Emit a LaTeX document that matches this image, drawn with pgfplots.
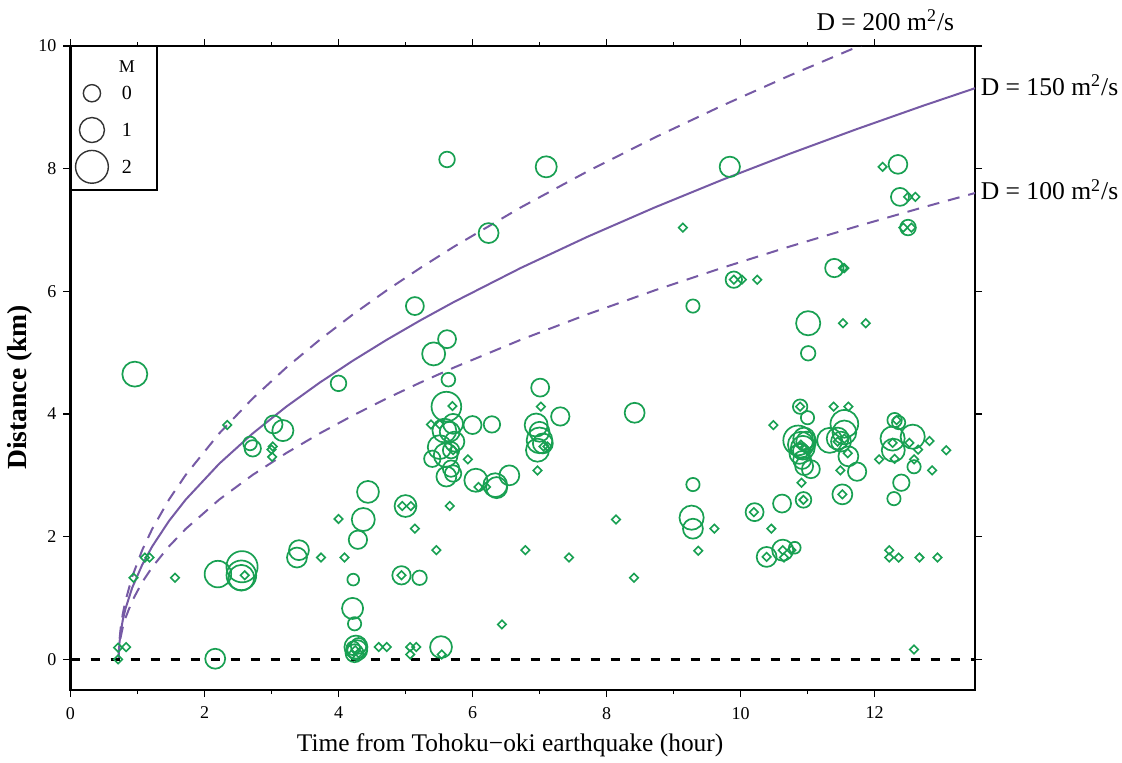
\documentclass[border=0pt]{standalone}
\usepackage{pgfplots}
\pgfplotsset{compat=1.18}
\usepackage{pgfplotstable}
\usepackage{fontspec}
\setmainfont{Liberation Serif}

\definecolor{quake}{RGB}{24,160,82}
\definecolor{front}{RGB}{118,90,165}

% events with a magnitude: time (h), distance (km), M
\pgfplotstableread{
t r M
5.62 8.15 -0.2
6.24 6.95 0.35
7.10 8.03 0.5
9.84 8.03 0.4
12.35 8.07 0.2
12.38 7.54 0.1
12.50 7.04 -0.2
11.40 6.38 0.15
0.96 4.65 1.0
2.68 3.52 -0.45
2.72 3.44 -0.1
3.03 3.83 0.1
3.17 3.73 0.5
5.14 5.76 0.1
5.62 5.22 0.1
5.42 4.98 0.75
5.64 4.56 -0.45
4.00 4.50 -0.2
5.61 4.12 1.6
6.00 3.82 0.1
6.29 3.83 -0.1
5.40 3.27 -0.1
5.71 3.84 0.35
5.66 3.71 0.35
5.58 3.73 0.85
5.73 3.55 0.35
5.51 3.46 0.85
5.68 3.41 -0.1
5.60 3.33 0.85
5.68 3.11 -0.1
5.71 3.03 -0.1
5.61 2.98 0.35
6.05 2.92 0.75
6.34 2.84 0.85
6.36 2.80 0.5
6.55 3.00 0.35
9.90 6.19 -0.1
9.29 5.76 -0.5
7.01 4.43 0.1
7.31 3.96 0.15
8.42 4.02 0.35
6.95 3.82 0.75
7.00 3.71 0.35
7.00 3.57 1.1
7.05 3.52 0.35
6.97 3.41 0.75
9.29 2.85 -0.5
11.01 5.48 0.9
11.01 4.99 -0.35
10.89 4.12 -0.35
11.00 3.94 -0.5
10.86 3.57 1.6
10.90 3.50 1.1
10.93 3.45 0.85
10.95 3.60 0.6
10.98 3.55 0.35
10.88 3.35 0.35
10.90 3.40 -0.2
10.92 3.25 0.1
10.95 3.15 0.1
11.05 3.10 0.1
11.55 3.84 1.35
11.55 3.70 0.85
11.33 3.57 1.0
11.45 3.60 0.6
11.50 3.55 0.35
11.61 3.31 0.35
11.74 3.06 0.15
12.30 3.90 -0.35
12.36 3.86 -0.5
12.27 3.60 0.9
12.57 3.63 0.9
12.28 3.41 0.75
12.59 3.14 -0.5
12.40 2.88 -0.1
12.29 2.62 -0.5
10.21 2.40 0.1
10.62 2.54 0.1
10.94 2.60 -0.2
11.52 2.69 0.35
10.39 1.67 0.35
10.63 1.78 0.5
10.81 1.82 -0.7
9.27 2.31 0.9
9.29 2.13 0.35
2.16 0.01 0.35
2.20 1.39 1.2
2.56 1.51 1.8
2.55 1.37 1.6
2.55 1.33 1.1
3.41 1.78 0.35
3.38 1.66 0.35
4.44 2.73 0.6
4.37 2.28 0.75
4.29 1.95 0.15
4.22 1.30 -0.7
4.21 0.83 0.5
4.24 0.58 -0.5
4.26 0.20 0.75
4.28 0.15 0.35
4.24 0.10 0.1
4.30 0.22 -0.2
4.22 0.18 -0.45
5.53 0.20 0.6
5.00 2.50 0.6
4.94 1.37 0.15
5.21 1.33 -0.35
}\withmag

% events without a magnitude: time (h), distance (km)
\pgfplotstableread{
t r
12.12 8.03
12.50 7.54
12.61 7.54
12.43 7.04
12.55 7.04
9.14 7.04
2.34 3.82
3.02 3.47
3.00 3.42
3.01 3.30
5.70 4.13
5.38 3.83
5.51 3.83
5.93 3.26
5.71 3.41
9.90 6.19
10.02 6.19
10.25 6.19
7.02 4.12
7.06 3.47
7.12 3.47
6.97 3.08
11.53 6.38
11.55 6.38
11.53 5.48
11.87 5.48
10.89 4.12
11.39 4.12
11.61 4.12
10.49 3.82
10.90 3.50
10.95 3.45
11.00 3.40
11.45 3.55
11.55 3.60
11.60 3.36
11.49 3.08
12.33 3.90
12.27 3.53
12.52 3.53
12.65 3.42
12.82 3.56
13.07 3.41
12.07 3.26
12.30 3.27
12.86 3.08
12.59 3.26
0.71 0.00
0.71 0.19
0.83 0.20
0.94 1.33
1.11 1.66
1.18 1.66
1.56 1.33
2.60 1.37
3.74 1.66
4.00 2.29
4.09 1.66
4.25 0.15
4.30 0.10
4.20 0.08
4.60 0.20
4.72 0.20
5.07 0.20
5.16 0.20
5.07 0.08
5.54 0.08
4.95 2.50
5.08 2.50
5.14 2.13
4.94 1.37
5.46 1.78
5.66 2.50
6.79 1.78
6.44 0.57
6.09 2.81
6.20 2.81
7.44 1.66
8.14 2.28
8.41 1.33
9.61 2.13
9.37 1.77
10.20 2.40
10.46 2.13
10.94 2.60
10.91 2.88
11.52 2.69
10.39 1.67
10.63 1.78
10.65 1.66
10.76 1.78
12.22 1.78
12.22 1.66
12.36 1.66
12.67 1.66
12.94 1.66
12.59 0.16
}\nomag

% legend entries: position and magnitude
\pgfplotstableread{
t r M
0.32 9.23 0
0.32 8.63 1
0.32 8.03 2
}\magkey

% triggering fronts r = sqrt(4 pi D (t - t0)), t0 = 0.72 h
\pgfplotstableread{
t d100 d150 d200
0.72 0 0 0
0.722 0.095 0.116 0.134
0.73 0.213 0.260 0.301
0.75 0.368 0.451 0.521
0.78 0.521 0.638 0.737
0.82 0.673 0.824 0.951
0.92 0.951 1.165 1.345
1.07 1.258 1.541 1.780
1.22 1.504 1.842 2.127
1.47 1.842 2.256 2.605
1.72 2.127 2.605 3.008
2.22 2.605 3.190 3.684
2.72 3.008 3.684 4.254
3.22 3.363 4.119 4.756
3.72 3.684 4.512 5.210
4.22 3.979 4.873 5.627
4.72 4.254 5.210 6.016
5.22 4.512 5.526 6.381
5.72 4.756 5.825 6.726
6.72 5.210 6.381 7.368
7.72 5.627 6.892 7.958
8.72 6.016 7.368 8.508
9.72 6.381 7.815 9.024
10.72 6.726 8.237 9.512
11.72 7.054 8.639 9.976
12.72 7.368 9.024 10.420
13.50 7.603 9.312 10.800
}\fronts

\pgfplotsset{
  magcircles/.style={scatter, only marks, mark=o,
    visualization depends on={\thisrow{M} \as \mag},
    scatter/use mapped color={draw=#1, fill=none},
    scatter/@pre marker code/.append style={/tikz/mark size={4.3+1.95*\mag}}},
}

\begin{document}
\begin{tikzpicture}
\begin{axis}[
  scale only axis,
  width=452.25pt, height=322pt,
  xmin=0, xmax=13.5, ymin=-0.5, ymax=10,
  xtick={0,2,...,12}, minor x tick num=1,
  ytick={0,2,...,10},
  tick align=outside,
  major tick length=3.5pt, minor tick length=2pt,
  every tick/.style={black, line width=0.6pt},
  axis line style={line width=1.3pt},
  tick label style={font=\fontsize{9}{11}\selectfont},
  xticklabel style={yshift=-1.5pt},
  /pgf/number format/assume math mode=true,
  xlabel={Time from Tohoku\char"2212 oki earthquake (hour)},
  ylabel={Distance (km)},
  xlabel style={font=\fontsize{12.7}{14}\selectfont, inner sep=0pt,
    at={([yshift=-30.5pt]rel axis cs:0.486,0)}, anchor=base},
  ylabel style={font=\bfseries\fontsize{13.8}{15}\selectfont, inner sep=0pt,
    at={([xshift=-21.75pt]rel axis cs:0,0.47)}, anchor=base},
  clip=false,
]
% fixed page extent
\path (rel axis cs:0,0) ++(-35.25pt,-36pt) rectangle ++(561pt,381pt);

\begin{scope}
\clip (rel axis cs:0,0) rectangle (rel axis cs:1,1);
\addplot[front, line width=1pt, dash pattern=on 6pt off 4.5pt] table[x=t, y=d200]{\fronts};
\addplot[front, line width=1pt, dash pattern=on 6pt off 4.5pt] table[x=t, y=d100]{\fronts};
\addplot[front, line width=1pt] table[x=t, y=d150]{\fronts};
\end{scope}

\addplot[black, line width=1.5pt, dash pattern=on 4.5pt off 5.5pt] coordinates {(0,0) (13.5,0)};

\addplot[only marks, mark=square, mark size=1.5pt, draw=quake,
  mark options={rotate=45, line width=0.8pt, draw=quake, fill=none}]
  table[x=t, y=r]{\nomag};

\addplot[magcircles=quake, mark options={line width=0.85pt}]
  table[x=t, y=r]{\withmag};

% magnitude key
\draw[line width=1pt] (axis cs:0,10) rectangle (axis cs:1.29,7.65);
\addplot[magcircles=black!80, mark options={line width=0.7pt}]
  table[x=t, y=r]{\magkey};
\node[font=\fontsize{9}{11}\selectfont] at (axis cs:0.84,9.66) {M};
\node[font=\fontsize{10}{12}\selectfont] at (axis cs:0.84,9.23) {0};
\node[font=\fontsize{10}{12}\selectfont] at (axis cs:0.84,8.63) {1};
\node[font=\fontsize{10}{12}\selectfont] at (axis cs:0.84,8.03) {2};

% front labels
\node[font=\fontsize{12.8}{15}\selectfont, anchor=base west, inner sep=0pt] at (axis cs:11.13,10.26) {D = 200 m\textsuperscript{2}/s};
\node[font=\fontsize{12.8}{15}\selectfont, anchor=base west, inner sep=0pt] at (axis cs:13.58,9.20) {D = 150 m\textsuperscript{2}/s};
\node[font=\fontsize{12.8}{15}\selectfont, anchor=base west, inner sep=0pt] at (axis cs:13.58,7.49) {D = 100 m\textsuperscript{2}/s};
\end{axis}
\end{tikzpicture}
\end{document}
